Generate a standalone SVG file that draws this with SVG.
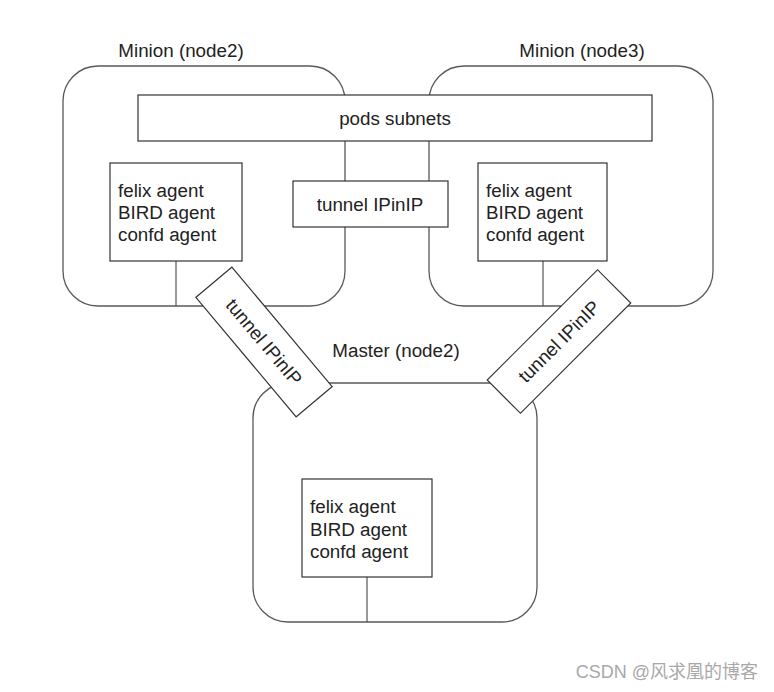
<svg xmlns="http://www.w3.org/2000/svg" width="774" height="692" viewBox="0 0 774 692">
<style>
.node{fill:#fff;stroke:#595959;stroke-width:1.3}
.box{fill:#fff;stroke:#333;stroke-width:1.2}
.ln{stroke:#555;stroke-width:1.2;fill:none}
text{font-family:"Liberation Sans",Arial,sans-serif;font-size:18.8px;fill:#222}
.mid{text-anchor:middle}
.wm{font-family:"Liberation Sans","Noto Sans CJK SC",sans-serif;font-size:18px;fill:#a8a8a8;text-anchor:end}
</style>
<rect width="774" height="692" fill="#fff"/>
<g id="node2">
<rect class="node" x="63" y="66" width="282" height="240" rx="35"/>
<text x="181" y="57" class="mid">Minion (node2)</text>
</g>
<g id="node3">
<rect class="node" x="429" y="66" width="284" height="240" rx="35"/>
<text x="582" y="57" class="mid">Minion (node3)</text>
</g>
<g id="master">
<rect class="node" x="253" y="383" width="284" height="239" rx="35"/>
<text x="396" y="357" class="mid">Master (node2)</text>
</g>
<g id="connectors">
<line class="ln" x1="176" y1="261" x2="176" y2="306"/>
<line class="ln" x1="543" y1="261" x2="543" y2="306"/>
<line class="ln" x1="367" y1="577" x2="367" y2="622"/>
</g>
<g id="pods">
<rect class="box" x="138" y="95" width="514" height="46"/>
<text x="395" y="125" class="mid">pods subnets</text>
</g>
<g id="tunnel-top">
<rect class="box" x="293" y="181" width="155" height="46"/>
<text x="370" y="211" class="mid">tunnel IPinIP</text>
</g>
<g id="agent-node2">
<rect class="box" x="110" y="163" width="132" height="98"/>
<text x="118" y="197">felix agent</text>
<text x="118" y="219">BIRD agent</text>
<text x="118" y="241">confd agent</text>
</g>
<g id="agent-node3">
<rect class="box" x="478" y="163" width="129" height="98"/>
<text x="486" y="197">felix agent</text>
<text x="486" y="219">BIRD agent</text>
<text x="486" y="241">confd agent</text>
</g>
<g id="agent-master">
<rect class="box" x="302" y="479" width="130" height="98"/>
<text x="310" y="513">felix agent</text>
<text x="310" y="536">BIRD agent</text>
<text x="310" y="558">confd agent</text>
</g>
<g id="tunnel-left" transform="translate(264,342) rotate(50)">
<rect class="box" x="-78" y="-23.5" width="156" height="47"/>
<text x="0" y="6.5" class="mid">tunnel IPinIP</text>
</g>
<g id="tunnel-right" transform="translate(559,341.5) rotate(-45)">
<rect class="box" x="-78" y="-23.5" width="156" height="47"/>
<text x="0" y="6.5" class="mid">tunnel IPinIP</text>
</g>
<text class="wm" x="758" y="678">CSDN @风求凰的博客</text>
</svg>
